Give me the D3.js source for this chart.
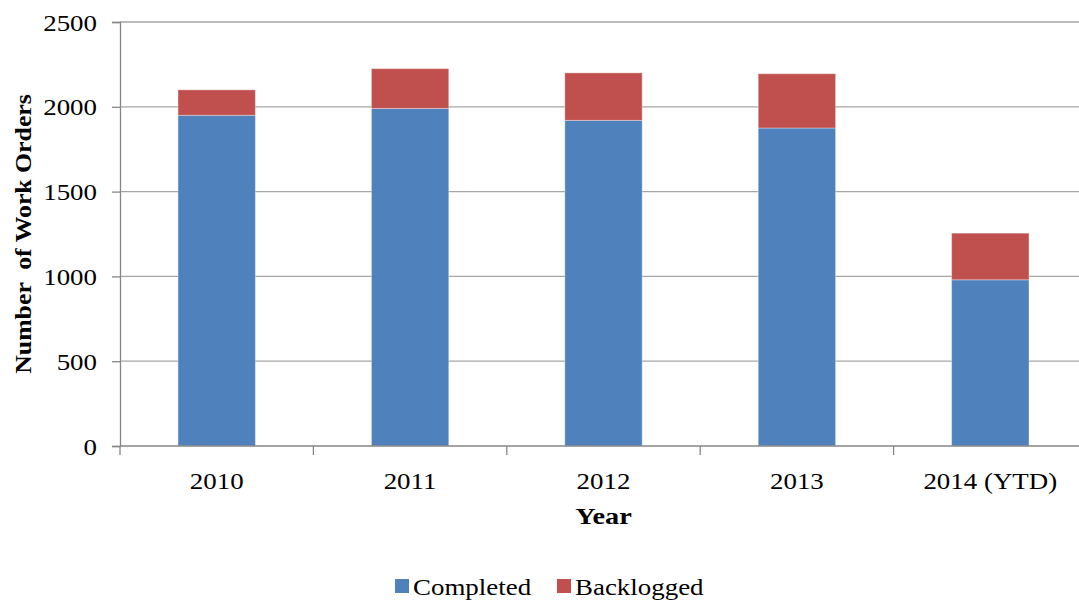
<!DOCTYPE html>
<html>
<head>
<meta charset="utf-8">
<script src="https://cdn.jsdelivr.net/npm/d3@7"></script>
<style>
  body { margin: 0; background: #fff; }
  text { font-family: "Liberation Serif", "Times New Roman", serif; fill: #000; }
</style>
</head>
<body>
<div id="chart"></div>
<script>
// data
var years = ["2010", "2011", "2012", "2013", "2014 (YTD)"];
var completed = [1950, 1990, 1920, 1875, 980];
var backlogged = [150, 235, 280, 320, 275];
var yTicks = [0, 500, 1000, 1500, 2000, 2500];
var seriesNames = ["Completed", "Backlogged"];
var seriesColors = ["#4F81BD", "#C0504D"];

var margin = {top: 22, right: 0, bottom: 154, left: 120},
    width = 1087 - margin.left,
    height = 446 - margin.top;

var svg = d3.select("#chart")
    .append("svg")
    .attr("width", 1079)
    .attr("height", 600)
    .append("g")
    .attr("transform", "translate(" + margin.left + "," + margin.top + ")");

var x = d3.scaleBand()
    .domain(years)
    .range([0, width])
    .paddingInner(0.6)
    .paddingOuter(0.3);

var y = d3.scaleLinear()
    .domain([0, 2500])
    .range([height, 0]);

// the original font is a bit wider than Liberation Serif, stretch text a little
function stretch(sel, k) {
    sel.each(function() {
        var w = this.getComputedTextLength();
        d3.select(this)
            .attr("textLength", w * k)
            .attr("lengthAdjust", "spacingAndGlyphs");
    });
}

// gridlines
svg.append("g")
    .selectAll("line")
    .data(yTicks.slice(1))
    .enter()
    .append("line")
    .attr("x1", 0)
    .attr("x2", width)
    .attr("y1", function(d) { return y(d); })
    .attr("y2", function(d) { return y(d); })
    .attr("stroke", "#A6A6A6")
    .attr("stroke-width", 1.3);

// stacked bars
var rows = years.map(function(yr, i) {
    return {year: yr, Completed: completed[i], Backlogged: backlogged[i]};
});
var stack = d3.stack().keys(seriesNames)(rows);

svg.append("g")
    .selectAll("g")
    .data(stack)
    .enter()
    .append("g")
    .attr("fill", function(d, i) { return seriesColors[i]; })
    .selectAll("rect")
    .data(function(d) { return d; })
    .enter()
    .append("rect")
    .attr("x", function(d) { return x(d.data.year); })
    .attr("y", function(d) { return y(d[1]); })
    .attr("width", x.bandwidth())
    .attr("height", function(d) { return y(d[0]) - y(d[1]); })
    .attr("stroke", "rgba(255,255,255,0.35)")
    .attr("stroke-width", 1);

// y axis
var yAxis = svg.append("g")
    .call(d3.axisLeft(y).tickValues(yTicks).tickFormat(d3.format("d")).tickSize(8).tickPadding(15));
yAxis.select(".domain").attr("stroke", "#868686").attr("stroke-width", 1.3);
yAxis.selectAll(".tick line").attr("stroke", "#868686").attr("stroke-width", 1.3);
yAxis.selectAll("text")
    .style("font-family", "Liberation Serif")
    .style("font-size", "23px")
    .attr("dy", "0.35em")
    .call(stretch, 1.17);

// x axis, ticks sit between categories
var xAxis = svg.append("g")
    .attr("transform", "translate(0," + height + ")");
xAxis.append("line")
    .attr("x1", 0).attr("x2", width)
    .attr("stroke", "#868686").attr("stroke-width", 1.3);
xAxis.selectAll(".sep")
    .data(years)
    .enter()
    .append("line")
    .attr("class", "sep")
    .attr("x1", function(d) { return x(d) - x.step() * x.paddingInner() / 2; })
    .attr("x2", function(d) { return x(d) - x.step() * x.paddingInner() / 2; })
    .attr("y1", 0).attr("y2", 9)
    .attr("stroke", "#868686").attr("stroke-width", 1.3);
xAxis.selectAll(".lbl")
    .data(years)
    .enter()
    .append("text")
    .attr("class", "lbl")
    .attr("x", function(d) { return x(d) + x.bandwidth() / 2; })
    .attr("y", 43)
    .attr("text-anchor", "middle")
    .style("font-size", "23px")
    .text(function(d) { return d; })
    .call(stretch, 1.17);

// axis titles
svg.append("text")
    .attr("x", width / 2)
    .attr("y", height + 78)
    .attr("text-anchor", "middle")
    .style("font-size", "24px")
    .style("font-weight", "bold")
    .text("Year")
    .call(stretch, 1.18);

svg.append("text")
    .attr("transform", "translate(-89," + (height / 2) + ") rotate(-90)")
    .attr("text-anchor", "middle")
    .style("font-size", "23px")
    .style("font-weight", "bold")
    .style("white-space", "pre")
    .text("Number  of Work Orders")
    .call(stretch, 1.12);

// legend
var legendX = [395 - margin.left, 557 - margin.left];
var legend = svg.append("g")
    .attr("transform", "translate(0," + (579 - margin.top) + ")");
seriesNames.forEach(function(name, i) {
    legend.append("rect")
        .attr("x", legendX[i])
        .attr("y", 0)
        .attr("width", 14)
        .attr("height", 14)
        .attr("fill", seriesColors[i]);
    legend.append("text")
        .attr("x", legendX[i] + 18)
        .attr("y", 16)
        .style("font-size", "23px")
        .text(name)
        .call(stretch, 1.17);
});
</script>
</body>
</html>
